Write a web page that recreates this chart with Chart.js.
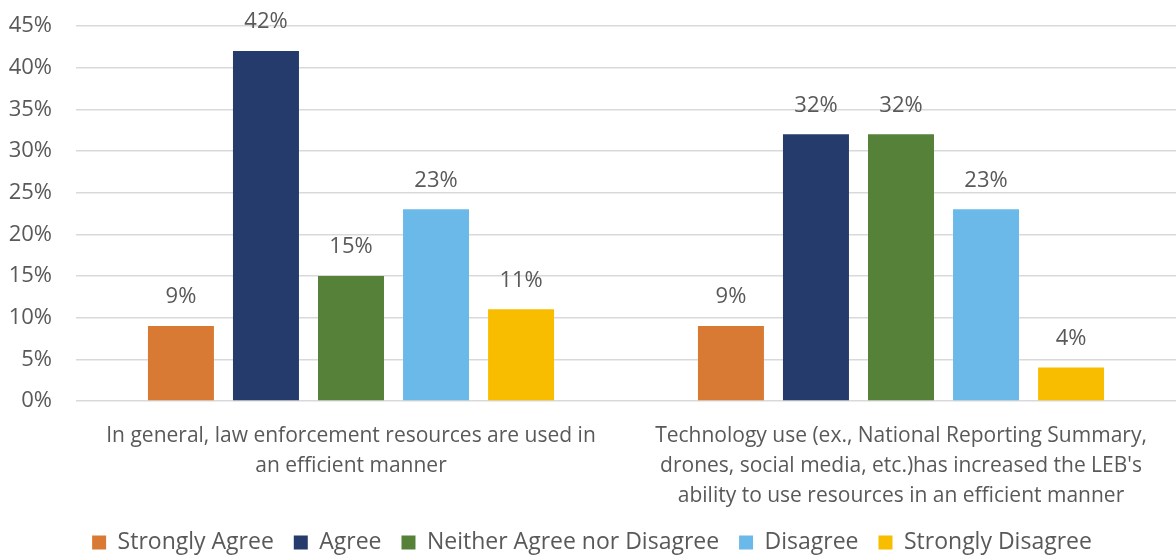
<!DOCTYPE html>
<html>
<head>
<meta charset="utf-8">
<script src="https://cdn.jsdelivr.net/npm/chart.js@4"></script>
<style>
    html, body { margin: 0; padding: 0; background: #ffffff; }
    #wrap { width: 1176px; height: 555px; }
</style>
</head>
<body>
<div id="wrap"><canvas id="surveyChart"></canvas></div>
<script>
'use strict';

var categories = [
    ['In general, law enforcement resources are used in', 'an efficient manner'],
    ['Technology use (ex., National Reporting Summary,', 'drones, social media, etc.)has increased the LEB\'s', 'ability to use resources in an efficient manner']
];
var seriesNames = ['Strongly Agree', 'Agree', 'Neither Agree nor Disagree', 'Disagree', 'Strongly Disagree'];
var stronglyAgree = [9, 9];
var agree = [42, 32];
var neither = [15, 32];
var disagree = [23, 23];
var stronglyDisagree = [11, 4];

var colors = {
    orange : '#d87a33',
    navy   : '#253b6b',
    green  : '#558139',
    blue   : '#6bb9e9',
    gold   : '#f9bd00',
    text   : '#595959',
    grid   : '#d9d9d9'
};

var fontFamily = "'Open Sans', 'Noto Sans', sans-serif";

// draws the value above each bar
var valueLabels = {
    id: 'valueLabels',
    afterDatasetsDraw: function(chart) {
        var ctx = chart.ctx;
        ctx.save();
        ctx.fillStyle = colors.text;
        ctx.font = '22px ' + fontFamily;
        ctx.textAlign = 'center';
        ctx.textBaseline = 'middle';
        chart.data.datasets.forEach(function(ds, i) {
            chart.getDatasetMeta(i).data.forEach(function(bar, j) {
                ctx.fillText(ds.data[j] + '%', bar.x, bar.y - 29);
            });
        });
        ctx.restore();
    }
};

var seriesData = [stronglyAgree, agree, neither, disagree, stronglyDisagree];
var seriesColors = [colors.orange, colors.navy, colors.green, colors.blue, colors.gold];

new Chart(document.getElementById('surveyChart'), {
    type: 'bar',
    data: {
        labels: categories,
        datasets: seriesNames.map(function(name, i) {
            return {
                label: name,
                data: seriesData[i],
                backgroundColor: seriesColors[i],
                categoryPercentage: 0.773,
                barPercentage: 0.776
            };
        })
    },
    options: {
        responsive: true,
        maintainAspectRatio: false,
        animation: false,
        layout: {
            autoPadding: false,
            padding: { top: 26, right: 0, left: 8, bottom: -9 }
        },
        plugins: {
            legend: {
                display: true,
                position: 'bottom',
                labels: {
                    color: colors.text,
                    boxWidth: 14,
                    boxHeight: 14,
                    padding: 8,
                    font: { size: 23, family: fontFamily },
                    generateLabels: function(chart) {
                        // extra spaces widen the gap between legend entries
                        return Chart.defaults.plugins.legend.labels.generateLabels(chart).map(function(item, i, all) {
                            if (i < all.length - 1) item.text = item.text + '  ';
                            return item;
                        });
                    }
                }
            },
            tooltip: { enabled: false }
        },
        scales: {
            x: {
                grid: { display: false },
                border: { display: false },
                ticks: {
                    color: colors.text,
                    maxRotation: 0,
                    autoSkip: false,
                    padding: 12,
                    font: { size: 21, family: fontFamily, lineHeight: 1.43 }
                }
            },
            y: {
                min: 0,
                max: 45,
                grid: { color: colors.grid, lineWidth: 1.5, drawTicks: false },
                border: { display: false },
                ticks: {
                    stepSize: 5,
                    color: colors.text,
                    padding: 24,
                    font: { size: 22, family: fontFamily },
                    callback: function(v) { return v + '%'; }
                },
                afterFit: function(scale) {
                    // tick padding counts twice in the width and also in the top padding
                    scale.width = 68;
                    scale.paddingTop = 0;
                    scale.paddingBottom = 0;
                }
            }
        }
    },
    plugins: [valueLabels]
});
</script>
</body>
</html>
